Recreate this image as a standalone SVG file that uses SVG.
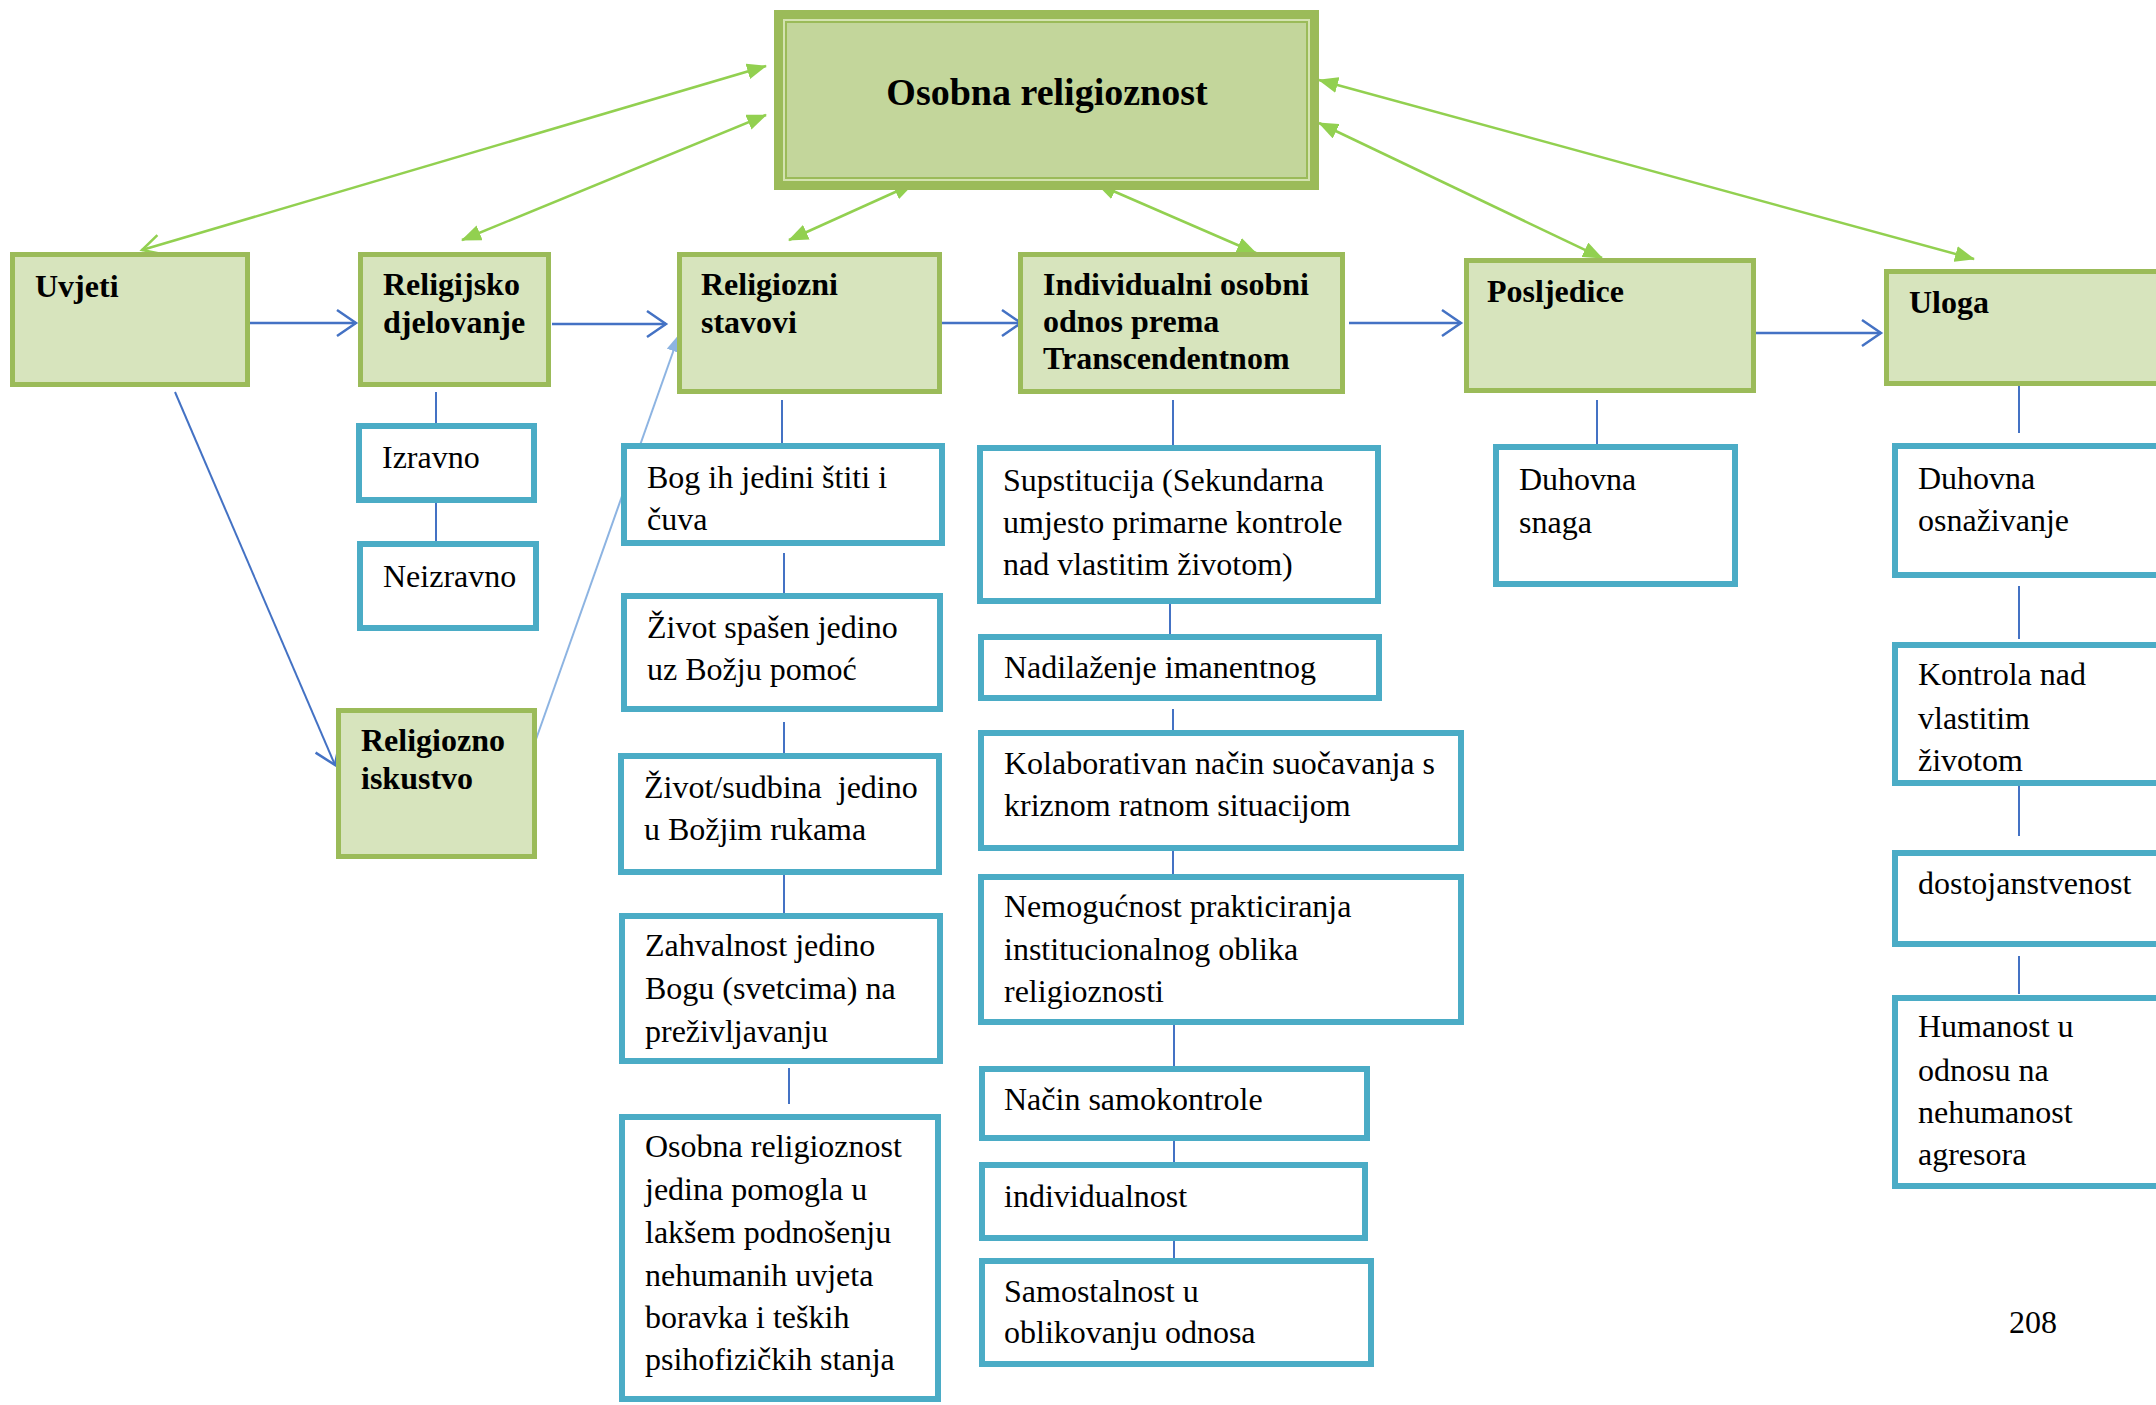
<svg xmlns="http://www.w3.org/2000/svg" width="2156" height="1405" viewBox="0 0 2156 1405">
<style>
.g{fill:#D7E4BD;stroke:#9BBB59;stroke-width:5}
.c{fill:#fff;stroke:#4BACC6;stroke-width:6}
.t{font-family:"Liberation Serif","Times New Roman",serif;font-size:32px;fill:#000;white-space:pre}
.b{font-weight:bold}
.ln{stroke:#4472C4;stroke-width:2;fill:none}
.bl{stroke:#4472C4;stroke-width:2.5;fill:none}
.ga{stroke:#92D050;stroke-width:2.5;fill:none}
</style>
<defs>
<marker id="gh" viewBox="0 0 20 16" refX="19" refY="8" markerWidth="20" markerHeight="16" markerUnits="userSpaceOnUse" orient="auto-start-reverse"><path d="M0,0 L20,8 L0,16 z" fill="#92D050"/></marker>
<marker id="go" viewBox="0 0 24 24" refX="21" refY="12" markerWidth="24" markerHeight="24" markerUnits="userSpaceOnUse" orient="auto"><path d="M2,2 L21,12 L2,22" fill="none" stroke="#92D050" stroke-width="2.5"/></marker>
<marker id="bo" viewBox="0 0 24 30" refX="21" refY="15" markerWidth="24" markerHeight="30" markerUnits="userSpaceOnUse" orient="auto"><path d="M2,2 L21,15 L2,28" fill="none" stroke="#4472C4" stroke-width="2.5"/></marker>
<marker id="lb" viewBox="0 0 18 14" refX="17" refY="7" markerWidth="18" markerHeight="14" markerUnits="userSpaceOnUse" orient="auto"><path d="M0,0 L18,7 L0,14 z" fill="#8DB4E2"/></marker>
</defs>

<g id="connectors">
<!-- green bidirectional to main -->
<line class="ga" x1="766" y1="66" x2="142" y2="250" marker-start="url(#gh)" marker-end="url(#go)"/>
<line class="ga" x1="766" y1="115" x2="462" y2="240" marker-start="url(#gh)" marker-end="url(#gh)"/>
<line class="ga" x1="913" y1="184" x2="789" y2="240" marker-start="url(#gh)" marker-end="url(#gh)"/>
<line class="ga" x1="1097" y1="184" x2="1256" y2="253" marker-start="url(#gh)" marker-end="url(#gh)"/>
<line class="ga" x1="1319" y1="123" x2="1602" y2="258" marker-start="url(#gh)" marker-end="url(#gh)"/>
<line class="ga" x1="1319" y1="80" x2="1974" y2="259" marker-start="url(#gh)" marker-end="url(#gh)"/>
<!-- blue horizontal arrows -->
<line class="bl" x1="250" y1="323" x2="356" y2="323" marker-end="url(#bo)"/>
<line class="bl" x1="552" y1="324" x2="666" y2="324" marker-end="url(#bo)"/>
<line class="bl" x1="942" y1="323" x2="1021" y2="323" marker-end="url(#bo)"/>
<line class="bl" x1="1349" y1="323" x2="1461" y2="323" marker-end="url(#bo)"/>
<line class="bl" x1="1749" y1="333" x2="1881" y2="333" marker-end="url(#bo)"/>
<line class="ln" x1="175" y1="392" x2="335" y2="765" marker-end="url(#bo)"/>
<line x1="534" y1="745" x2="679" y2="335" stroke="#8DB4E2" stroke-width="2" marker-end="url(#lb)"/>
<!-- vertical connectors -->
<line class="ln" x1="436" y1="392" x2="436" y2="423"/>
<line class="ln" x1="436" y1="503" x2="436" y2="541"/>
<line class="ln" x1="782" y1="400" x2="782" y2="443"/>
<line class="ln" x1="784" y1="553" x2="784" y2="593"/>
<line class="ln" x1="784" y1="722" x2="784" y2="753"/>
<line class="ln" x1="784" y1="875" x2="784" y2="913"/>
<line class="ln" x1="789" y1="1068" x2="789" y2="1104"/>
<line class="ln" x1="1173" y1="400" x2="1173" y2="445"/>
<line class="ln" x1="1170" y1="604" x2="1170" y2="634"/>
<line class="ln" x1="1173" y1="709" x2="1173" y2="730"/>
<line class="ln" x1="1173" y1="851" x2="1173" y2="874"/>
<line class="ln" x1="1174" y1="1024" x2="1174" y2="1066"/>
<line class="ln" x1="1174" y1="1141" x2="1174" y2="1162"/>
<line class="ln" x1="1174" y1="1241" x2="1174" y2="1258"/>
<line class="ln" x1="1597" y1="400" x2="1597" y2="444"/>
<line class="ln" x1="2019" y1="378" x2="2019" y2="433"/>
<line class="ln" x1="2019" y1="586" x2="2019" y2="639"/>
<line class="ln" x1="2019" y1="786" x2="2019" y2="836"/>
<line class="ln" x1="2019" y1="956" x2="2019" y2="994"/>
</g>

<g id="main">
<rect x="774" y="10" width="545" height="180" fill="#9BBB59"/>
<rect x="783" y="19" width="527" height="162" fill="#D4E3B0"/>
<rect x="785" y="21" width="523" height="158" fill="#9BBB59"/>
<rect x="787" y="23" width="519" height="154" fill="#C3D69B"/>
<text class="t b" x="1047" y="105" text-anchor="middle" style="font-size:38px">Osobna religioznost</text>
</g>

<g id="uvjeti"><rect class="g" x="12.5" y="254.5" width="235" height="130"/><text class="t b" x="35" y="297">Uvjeti</text></g>
<g id="religijsko"><rect class="g" x="360.5" y="254.5" width="188" height="130"/><text class="t b" x="383" y="295">Religijsko</text><text class="t b" x="383" y="333">djelovanje</text></g>
<g id="stavovi"><rect class="g" x="679.5" y="254.5" width="260" height="137"/><text class="t b" x="701" y="295">Religiozni</text><text class="t b" x="701" y="333">stavovi</text></g>
<g id="individualni"><rect class="g" x="1020.5" y="254.5" width="322" height="137"/><text class="t b" x="1043" y="295">Individualni osobni</text><text class="t b" x="1043" y="332">odnos prema</text><text class="t b" x="1043" y="369">Transcendentnom</text></g>
<g id="posljedice"><rect class="g" x="1466.5" y="260.5" width="287" height="130"/><text class="t b" x="1487" y="302">Posljedice</text></g>
<g id="uloga"><rect class="g" x="1886.5" y="271.5" width="300" height="112"/><text class="t b" x="1909" y="313">Uloga</text></g>
<g id="iskustvo"><rect class="g" x="338.5" y="710.5" width="196" height="146"/><text class="t b" x="361" y="751">Religiozno</text><text class="t b" x="361" y="789">iskustvo</text></g>

<g id="izravno"><rect class="c" x="359" y="426" width="175" height="74"/><text class="t" x="382" y="468">Izravno</text></g>
<g id="neizravno"><rect class="c" x="360" y="544" width="176" height="84"/><text class="t" x="383" y="587">Neizravno</text></g>

<g id="bog"><rect class="c" x="624" y="446" width="318" height="97"/><text class="t" x="647" y="488">Bog ih jedini štiti i</text><text class="t" x="647" y="530">čuva</text></g>
<g id="spasen"><rect class="c" x="624" y="596" width="316" height="113"/><text class="t" x="647" y="638">Život spašen jedino</text><text class="t" x="647" y="680">uz Božju pomoć</text></g>
<g id="sudbina"><rect class="c" x="621" y="756" width="318" height="116"/><text class="t" x="644" y="798">Život/sudbina  jedino</text><text class="t" x="644" y="840">u Božjim rukama</text></g>
<g id="zahvalnost"><rect class="c" x="622" y="916" width="318" height="145"/><text class="t" x="645" y="956">Zahvalnost jedino</text><text class="t" x="645" y="999">Bogu (svetcima) na</text><text class="t" x="645" y="1042">preživljavanju</text></g>
<g id="osobna"><rect class="c" x="622" y="1117" width="316" height="282"/><text class="t" x="645" y="1157">Osobna religioznost</text><text class="t" x="645" y="1200">jedina pomogla u</text><text class="t" x="645" y="1243">lakšem podnošenju</text><text class="t" x="645" y="1286">nehumanih uvjeta</text><text class="t" x="645" y="1328">boravka i teških</text><text class="t" x="645" y="1370">psihofizičkih stanja</text></g>

<g id="supstitucija"><rect class="c" x="980" y="448" width="398" height="153"/><text class="t" x="1003" y="491">Supstitucija (Sekundarna</text><text class="t" x="1003" y="533">umjesto primarne kontrole</text><text class="t" x="1003" y="575">nad vlastitim životom)</text></g>
<g id="nadilazenje"><rect class="c" x="981" y="637" width="398" height="61"/><text class="t" x="1004" y="678">Nadilaženje imanentnog</text></g>
<g id="kolaborativan"><rect class="c" x="981" y="733" width="480" height="115"/><text class="t" x="1004" y="774">Kolaborativan način suočavanja s</text><text class="t" x="1004" y="816">kriznom ratnom situacijom</text></g>
<g id="nemogucnost"><rect class="c" x="981" y="877" width="480" height="145"/><text class="t" x="1004" y="917">Nemogućnost prakticiranja</text><text class="t" x="1004" y="960">institucionalnog oblika</text><text class="t" x="1004" y="1002">religioznosti</text></g>
<g id="nacin"><rect class="c" x="982" y="1069" width="385" height="69"/><text class="t" x="1004" y="1110">Način samokontrole</text></g>
<g id="individualnost"><rect class="c" x="982" y="1165" width="383" height="73"/><text class="t" x="1004" y="1207">individualnost</text></g>
<g id="samostalnost"><rect class="c" x="982" y="1261" width="389" height="103"/><text class="t" x="1004" y="1302">Samostalnost u</text><text class="t" x="1004" y="1343">oblikovanju odnosa</text></g>

<g id="snaga"><rect class="c" x="1496" y="447" width="239" height="137"/><text class="t" x="1519" y="490">Duhovna</text><text class="t" x="1519" y="533">snaga</text></g>

<g id="osnazivanje"><rect class="c" x="1895" y="446" width="300" height="129"/><text class="t" x="1918" y="489">Duhovna</text><text class="t" x="1918" y="531">osnaživanje</text></g>
<g id="kontrola"><rect class="c" x="1895" y="645" width="300" height="138"/><text class="t" x="1918" y="685">Kontrola nad</text><text class="t" x="1918" y="729">vlastitim</text><text class="t" x="1918" y="771">životom</text></g>
<g id="dostojanstvenost"><rect class="c" x="1895" y="853" width="300" height="91"/><text class="t" x="1918" y="894">dostojanstvenost</text></g>
<g id="humanost"><rect class="c" x="1895" y="998" width="300" height="188"/><text class="t" x="1918" y="1037">Humanost u</text><text class="t" x="1918" y="1081">odnosu na</text><text class="t" x="1918" y="1123">nehumanost</text><text class="t" x="1918" y="1165">agresora</text></g>

<text class="t" x="2009" y="1333">208</text>
</svg>
